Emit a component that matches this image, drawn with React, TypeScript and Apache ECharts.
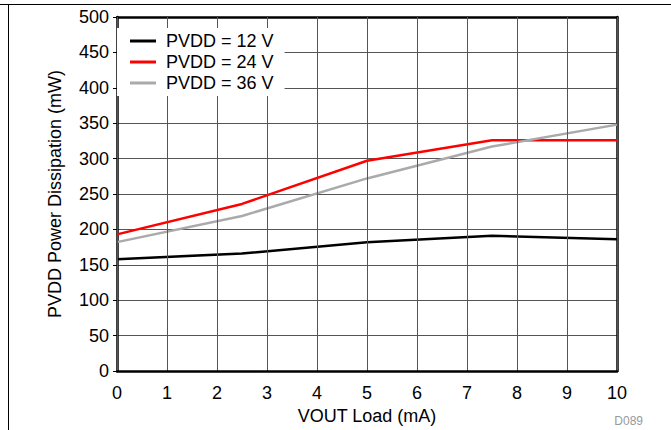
import React, { useEffect, useRef } from "react";
import * as echarts from "echarts";

const loads = [0, 2.5, 5, 7.5, 10];
const pvdd12 = [158, 166, 182, 191, 186];
const pvdd24 = [193, 236, 297, 326, 326];
const pvdd36 = [182, 219, 272, 317, 348];
const seriesNames = ["PVDD = 12 V", "PVDD = 24 V", "PVDD = 36 V"];
const seriesColors = ["#000000", "#ff0000", "#aaaaaa"];
const xTicks = { min: 0, max: 10, interval: 1 };
const yTicks = { min: 0, max: 500, interval: 50 };

const FONT = "'Liberation Sans', Arial, sans-serif";

export default function App() {
  const ref = useRef<HTMLDivElement>(null);
  useEffect(() => {
    if (!ref.current) return;
    const chart = echarts.init(ref.current, null, { renderer: "svg" });
    const values = [pvdd12, pvdd24, pvdd36];
    const grid = { left: 117, top: 17, right: 54, bottom: 59 };
    chart.setOption({
      animation: false,
      backgroundColor: "#ffffff",
      textStyle: { fontFamily: FONT },
      grid: { ...grid, containLabel: false },
      legend: {
        orient: "vertical",
        left: 117,
        top: 28,
        backgroundColor: "#ffffff",
        padding: [4, 11, 4, 13],
        itemGap: 3,
        itemWidth: 26,
        itemHeight: 3,
        icon: "rect",
        data: seriesNames,
        textStyle: {
          fontFamily: FONT,
          fontSize: 18,
          lineHeight: 18,
          color: "#000",
          padding: [0, 0, 0, 5],
        },
      },
      xAxis: [
        {
          type: "value",
          min: xTicks.min,
          max: xTicks.max,
          interval: xTicks.interval,
          name: "VOUT Load (mA)",
          nameLocation: "middle",
          nameGap: 33,
          nameTextStyle: { fontFamily: FONT, fontSize: 18, color: "#000" },
          axisLine: { show: true, lineStyle: { color: "#000", width: 2.5 } },
          axisTick: { show: false },
          axisLabel: { fontFamily: FONT, fontSize: 18, color: "#000", margin: 13 },
          splitLine: { show: true, lineStyle: { color: "#555", width: 1 } },
          z: 3,
        },
        {
          type: "value",
          position: "top",
          min: xTicks.min,
          max: xTicks.max,
          axisLine: { show: true, onZero: false, lineStyle: { color: "#000", width: 2.5 } },
          axisTick: { show: false },
          axisLabel: { show: false },
          splitLine: { show: false },
        },
      ],
      yAxis: [
        {
          type: "value",
          min: yTicks.min,
          max: yTicks.max,
          interval: yTicks.interval,
          name: "PVDD Power Dissipation (mW)",
          nameLocation: "middle",
          nameGap: 53,
          nameTextStyle: { fontFamily: FONT, fontSize: 18, color: "#000" },
          axisLine: { show: true, lineStyle: { color: "#000", width: 2.5 } },
          axisTick: { show: true, length: 4, lineStyle: { color: "#000", width: 1 } },
          axisLabel: { fontFamily: FONT, fontSize: 18, color: "#000", margin: 8 },
          splitLine: { show: true, lineStyle: { color: "#555", width: 1 } },
        },
        {
          type: "value",
          position: "right",
          min: yTicks.min,
          max: yTicks.max,
          axisLine: { show: true, onZero: false, lineStyle: { color: "#000", width: 2.5 } },
          axisTick: { show: false },
          axisLabel: { show: false },
          splitLine: { show: false },
        },
      ],
      series: seriesNames.map((name, i) => ({
        name,
        type: "line",
        xAxisIndex: 0,
        yAxisIndex: 0,
        data: loads.map((x, j) => [x, values[i][j]]),
        showSymbol: false,
        symbol: "none",
        color: seriesColors[i],
        lineStyle: { color: seriesColors[i], width: 2.5 },
        z: 2,
      })),
      graphic: [
        {
          type: "line",
          shape: { x1: 0, y1: 4.5, x2: 671, y2: 4.5 },
          style: { stroke: "#000", lineWidth: 1 },
        },
        {
          type: "line",
          shape: { x1: 8.5, y1: 4, x2: 8.5, y2: 430 },
          style: { stroke: "#000", lineWidth: 1 },
        },
        {
          type: "text",
          right: 28,
          top: 415,
          style: { text: "D089", fill: "#999", font: `12px ${FONT}` },
        },
      ],
    });
    return () => chart.dispose();
  }, []);
  return (
    <div
      ref={ref}
      style={{ position: "fixed", left: 0, top: 0, width: 671, height: 430 }}
    />
  );
}
